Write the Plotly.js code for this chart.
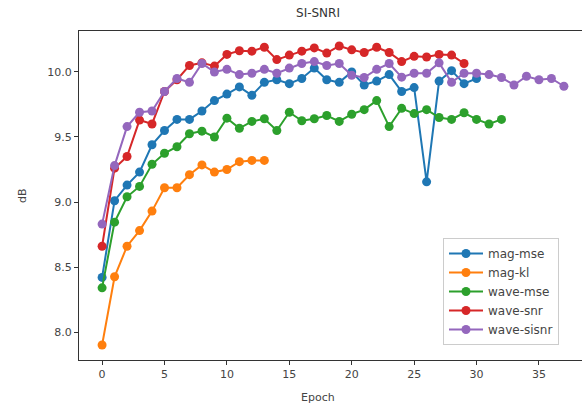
<!DOCTYPE html>
<html>
<head>
<meta charset="utf-8">
<script src="https://cdn.plot.ly/plotly-3.0.1.min.js"></script>
<style>html,body{margin:0;padding:0;overflow:hidden;background:#fff;}#chart{width:592px;height:406px;}</style>
</head>
<body>
<div id="chart"></div>
<script>
const epochsMagMse = [0,1,2,3,4,5,6,7,8,9,10,11,12,13,14,15,16,17,18,19,20,21,22,23,24,25,26,27,28,29,30];
const magMse = [8.42,9.01,9.13,9.23,9.44,9.55,9.635,9.635,9.70,9.78,9.83,9.885,9.82,9.92,9.94,9.91,9.95,10.03,9.94,9.92,10.00,9.90,9.93,9.98,9.85,9.88,9.155,9.93,10.01,9.91,9.95];

const epochsMagKl = [0,1,2,3,4,5,6,7,8,9,10,11,12,13];
const magKl = [7.90,8.425,8.66,8.78,8.93,9.11,9.11,9.21,9.285,9.23,9.25,9.31,9.32,9.32];

const epochsWaveMse = [0,1,2,3,4,5,6,7,8,9,10,11,12,13,14,15,16,17,18,19,20,21,22,23,24,25,26,27,28,29,30,31,32];
const waveMse = [8.34,8.845,9.04,9.12,9.29,9.375,9.425,9.525,9.545,9.50,9.645,9.567,9.62,9.64,9.55,9.69,9.625,9.64,9.665,9.62,9.675,9.71,9.78,9.58,9.72,9.68,9.71,9.65,9.635,9.686,9.635,9.60,9.635];

const epochsWaveSnr = [0,1,2,3,4,5,6,7,8,9,10,11,12,13,14,15,16,17,18,19,20,21,22,23,24,25,26,27,28,29];
const waveSnr = [8.66,9.26,9.35,9.63,9.60,9.85,9.94,10.05,10.07,10.045,10.135,10.163,10.16,10.19,10.095,10.13,10.16,10.185,10.145,10.20,10.17,10.15,10.19,10.15,10.08,10.12,10.115,10.135,10.13,10.065];

const epochsWaveSisnr = [0,1,2,3,4,5,6,7,8,9,10,11,12,13,14,15,16,17,18,19,20,21,22,23,24,25,26,27,28,29,30,31,32,33,34,35,36,37];
const waveSisnr = [8.83,9.28,9.58,9.69,9.70,9.85,9.95,9.92,10.065,10.0,10.02,9.98,9.99,10.02,9.99,10.03,10.065,10.08,10.05,10.065,9.975,9.957,10.02,10.065,9.96,9.99,9.99,10.07,9.92,9.99,9.99,9.98,9.957,9.90,9.967,9.94,9.95,9.89];

const seriesNames = ['mag-mse','mag-kl','wave-mse','wave-snr','wave-sisnr'];
const colors = ['#1f77b4','#ff7f0e','#2ca02c','#d62728','#9467bd'];
const xs = [epochsMagMse, epochsMagKl, epochsWaveMse, epochsWaveSnr, epochsWaveSisnr];
const ys = [magMse, magKl, waveMse, waveSnr, waveSisnr];

const traces = seriesNames.map((n, i) => ({
  x: xs[i], y: ys[i], name: n, type: 'scatter', mode: 'lines+markers',
  line: {color: colors[i], width: 2},
  marker: {color: colors[i], size: 9},
  cliponaxis: false
}));

const FONT = 'DejaVu Sans, sans-serif';
const tickFont = {family: FONT, size: 11, color: '#444'};
const layout = {
  width: 592, height: 406,
  margin: {l: 79, r: 5, t: 31, b: 46, pad: 0},
  paper_bgcolor: '#fff', plot_bgcolor: '#fff',
  title: {text: 'SI-SNRI', font: {family: FONT, size: 12, color: '#333'}, xref: 'container', x: 318/592, xanchor: 'center', yref: 'container', y: 1 - 13/406, yanchor: 'middle'},
  xaxis: {
    range: [-1.85, 38.85], tickvals: [0,5,10,15,20,25,30,35], ticktext: ['0','5','10','15','20','25','30','35'],
    showgrid: false, zeroline: false, showline: true, mirror: true, linecolor: '#333', linewidth: 1,
    ticks: 'outside', ticklen: 4, tickcolor: '#333', tickfont: tickFont
  },
  yaxis: {
    range: [7.785, 10.315], tickvals: [8.0,8.5,9.0,9.5,10.0], ticktext: ['8.0','8.5','9.0','9.5','10.0'],
    showgrid: false, zeroline: false, showline: true, mirror: true, linecolor: '#333', linewidth: 1,
    ticks: 'outside', ticklen: 4, tickcolor: '#333', tickfont: tickFont
  },
  annotations: [
    {text: 'Epoch', xref: 'paper', yref: 'paper', x: (318 - 79) / 508, y: -(397 - 360) / 329, xanchor: 'center', yanchor: 'middle', showarrow: false, font: {family: FONT, size: 11, color: '#444'}},
    {text: 'dB', xref: 'paper', yref: 'paper', x: -(79 - 22) / 508, y: (360 - 196) / 329, xanchor: 'center', yanchor: 'middle', textangle: -90, showarrow: false, font: {family: FONT, size: 11, color: '#444'}}
  ],
  showlegend: true,
  legend: {
    x: (443 - 79) / 508, xanchor: 'left', y: (360 - 238) / 329, yanchor: 'top',
    font: {family: FONT, size: 12, color: '#444'},
    bordercolor: '#ccc', borderwidth: 1, bgcolor: 'rgba(255,255,255,0.8)',
    tracegroupgap: 0, itemwidth: 34, traceorder: 'normal'
  }
};

Plotly.newPlot('chart', traces, layout, {displayModeBar: false, staticPlot: true});
</script>
</body>
</html>
